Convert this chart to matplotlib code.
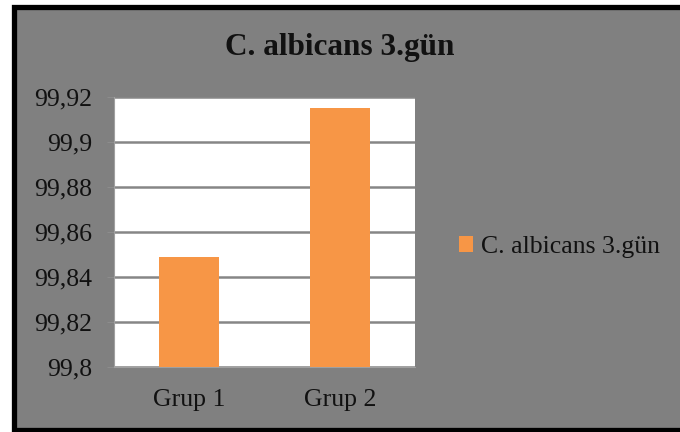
import matplotlib.pyplot as plt
from matplotlib.patches import Rectangle
from matplotlib.ticker import FuncFormatter, MultipleLocator

groups = ["Grup 1", "Grup 2"]
values = [99.849, 99.915]
series_name = "C. albicans 3.gün"
title = "C. albicans 3.gün"

plt.rcParams["font.family"] = ["Liberation Serif", "DejaVu Serif"]

fig = plt.figure(figsize=(6.8, 4.32), dpi=100)
fig.patch.set_facecolor("white")

# gray chart frame with a thick black border, kept behind the axes
frame = Rectangle((13.5 / 680, 2.5 / 432), 700 / 680, 423 / 432,
                  transform=fig.transFigure, facecolor="#808080",
                  edgecolor="black", linewidth=3.8, zorder=-1)
fig.add_artist(frame)

ax = fig.add_axes([114 / 680, 1 - 367 / 432, 301 / 680, 270 / 432])
ax.set_zorder(1)
ax.set_facecolor("white")

ax.bar(groups, values, width=0.4, color="#F79646", zorder=3, label=series_name)

ax.set_xlim(-0.5, 1.5)
ax.set_ylim(99.8, 99.92)
ax.yaxis.set_major_locator(MultipleLocator(0.02))
ax.yaxis.set_major_formatter(
    FuncFormatter(lambda v, _: ("%g" % round(v, 4)).replace(".", ",")))

ax.grid(axis="y", color="#868686", linewidth=1.8, zorder=1)
for side in ["top", "right"]:
    ax.spines[side].set_visible(False)
ax.spines["left"].set_color("#a0a0a0")
ax.spines["bottom"].set_color("#a0a0a0")

ax.tick_params(axis="y", length=5, color="#8c8c8c", labelsize=18.5,
               labelcolor="#111111", pad=11)
ax.tick_params(axis="x", length=0, labelsize=18.5, labelcolor="#111111", pad=16)

fig.text(0.5, 1 - 48 / 432, title, ha="center", va="center",
         fontsize=22.5, fontweight="bold", color="#111111")

leg = fig.legend(loc="center left", bbox_to_anchor=(436 / 680, 1 - 247 / 432),
                 frameon=False, fontsize=18.5, handlelength=0.55,
                 handleheight=0.55, handletextpad=0.3)
for t in leg.get_texts():
    t.set_color("#111111")

fig.savefig("out.png", dpi=100)
